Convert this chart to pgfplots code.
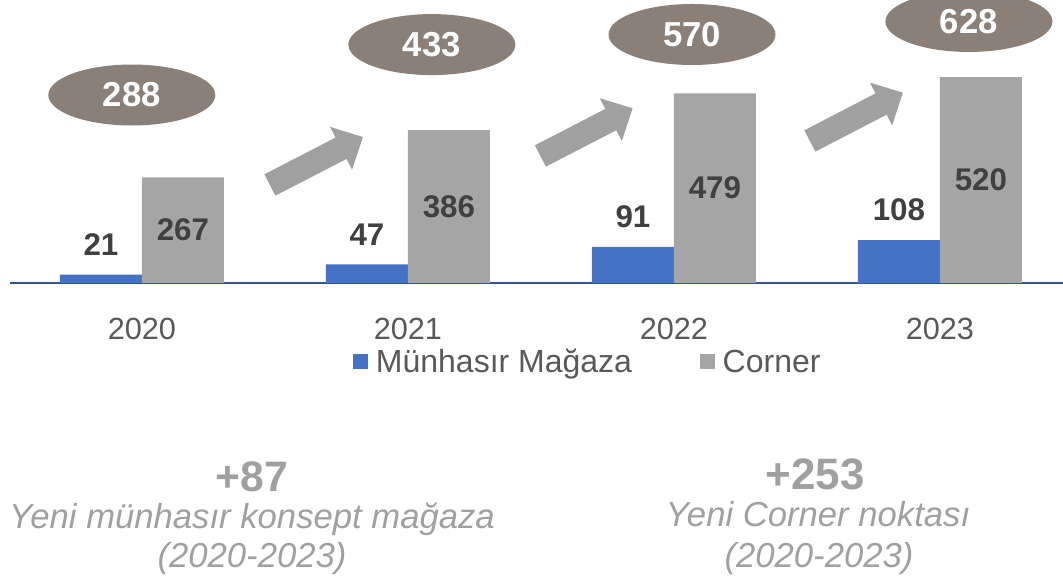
\documentclass[border=0pt]{standalone}
\usepackage{fontspec}
\setmainfont{Liberation Sans}
\usepackage{pgfplots}
\pgfplotsset{compat=1.18}
\usetikzlibrary{arrows.meta,shapes.geometric}

\definecolor{blueb}{HTML}{4472C4}
\definecolor{grayb}{HTML}{A5A5A5}
\definecolor{axisblue}{HTML}{2F5597}
\definecolor{labgray}{HTML}{595959}
\definecolor{darklab}{HTML}{404040}
\definecolor{ellc}{HTML}{8B8077}
\definecolor{arrowc}{HTML}{A0A0A0}
\definecolor{botgray}{HTML}{A0A0A0}

\begin{document}
\begin{tikzpicture}[x=0.75pt,y=0.75pt]
\useasboundingbox (0,0) rectangle (1063,577);
\begin{axis}[
    at={(7.5pt,220.5pt)}, anchor=south west,
    scale only axis,
    width=789.6pt, height=212.25pt,
    ybar, bar width=61.5pt,
    xmin=-0.496, xmax=3.462,
    ymin=0, ymax=714.6,
    axis x line=bottom, axis y line=none,
    x axis line style={draw=axisblue, line width=1.5pt, -},
    xtick={0,1,2,3},
    xticklabels={2020,2021,2022,2023},
    major tick length=0pt,
    xticklabel style={font=\fontsize{23}{27}\selectfont, text=labgray, anchor=base, yshift=-42.75pt},
    /pgf/number format/assume math mode=true,
    clip=false,
    legend style={at={(0.322,-0.279)}, anchor=west, draw=none, fill=none,
        font=\fontsize{24}{28}\selectfont, text=labgray,
        /tikz/every even column/.append style={column sep=49pt}},
    legend columns=2,
    legend image code/.code={\fill[#1] (0pt,-5.6pt) rectangle (11.25pt,5.6pt); \path (15pt,0pt);},
]
% Munhasir Magaza
\addplot[bar shift=-30.75pt, fill=blueb, draw=none,
    nodes near coords,
    nodes near coords style={font=\bfseries\fontsize{23.5}{28}\selectfont,
        text=darklab, anchor=south, inner sep=0pt, yshift=14pt}]
    coordinates {(0,21) (1,47) (2,91) (3,108)};
\addlegendentry{Münhasır Mağaza}
% Corner
\addplot[bar shift=30.75pt, fill=grayb, draw=none,
    nodes near coords,
    visualization depends on={rawy \as \rawy},
    nodes near coords style={font=\bfseries\fontsize{23.5}{28}\selectfont,
        text=darklab, anchor=center, inner sep=0pt, yshift=-\rawy*0.1485pt}]
    coordinates {(0,267) (1,386) (2,479) (3,520)};
\addlegendentry{Corner}
% arrows
\draw[arrowc, line width=18pt, -{Triangle[width=35pt,length=18.5pt]}]
    (axis cs:0.481,247.5) -- (axis cs:0.831,368.7);
\draw[arrowc, line width=18pt, -{Triangle[width=35pt,length=18.5pt]}]
    (axis cs:1.498,320.7) -- (axis cs:1.845,441.2);
\draw[arrowc, line width=18pt, -{Triangle[width=35pt,length=18.5pt]}]
    (axis cs:2.511,358.6) -- (axis cs:2.861,480.6);
% totals
\addplot[sharp plot, bar shift=0pt, draw=none, mark=none, forget plot,
    nodes near coords, point meta=explicit symbolic,
    nodes near coords style={ellipse, fill=ellc, text=white,
        font=\bfseries\fontsize{26}{30}\selectfont,
        minimum width=125.25pt, minimum height=45.75pt, inner sep=0pt, anchor=center}]
    coordinates {(-0.038,474.7)[288] (1.090,602)[433] (2.068,627.5)[570] (3.109,660.4)[628]};
\end{axis}

\node[anchor=base, text=botgray, font=\bfseries\fontsize{32}{36}\selectfont] at (252,85) {+87};
\node[anchor=base, text=botgray, font=\itshape\fontsize{26}{30}\selectfont] at (252,48) {Yeni münhasır konsept mağaza};
\node[anchor=base, text=botgray, font=\itshape\fontsize{26}{30}\selectfont] at (252,9) {(2020-2023)};
\node[anchor=base, text=botgray, font=\bfseries\fontsize{33}{36}\selectfont] at (815,87) {+253};
\node[anchor=base, text=botgray, font=\itshape\fontsize{26}{30}\selectfont] at (818,50) {Yeni Corner noktası};
\node[anchor=base, text=botgray, font=\itshape\fontsize{26}{30}\selectfont] at (819,9) {(2020-2023)};
\end{tikzpicture}
\end{document}
